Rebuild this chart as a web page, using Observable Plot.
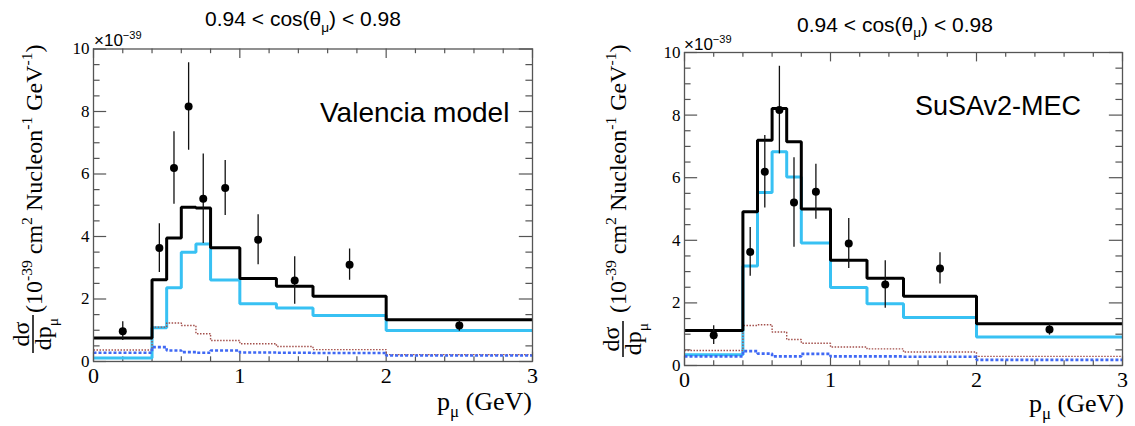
<!DOCTYPE html>
<html>
<head>
<meta charset="utf-8">
<script src="https://cdn.jsdelivr.net/npm/d3@7"></script>
<script src="https://cdn.jsdelivr.net/npm/@observablehq/plot@0.6"></script>
<style>
  body { margin: 0; background: #fff; }
  #chart { position: relative; width: 1135px; height: 426px; overflow: hidden; background: #fff; }
  .panel { position: absolute; top: 0; }
  .panel svg { overflow: visible; }
  #overlay { position: absolute; left: 0; top: 0; pointer-events: none; }
</style>
</head>
<body>
<div id="chart"></div>
<script>
// Muon momentum bin edges (GeV) and measured points at bin centres
const edges = [0, 0.4, 0.5, 0.6, 0.7, 0.8, 1.0, 1.25, 1.5, 2.0, 3.0];
const pCenters = [0.2, 0.45, 0.55, 0.65, 0.75, 0.9, 1.125, 1.375, 1.75, 2.5];
const dataXsec = [0.97, 3.63, 6.19, 8.16, 5.21, 5.55, 3.9, 2.59, 3.1, 1.15];
const dataErr  = [0.3, 0.78, 1.16, 1.4, 1.43, 0.88, 0.8, 0.76, 0.5, 0.18];

// Valencia model: total, quasi-elastic, 2p2h, pion-like contributions
const valTotal = [0.75, 2.62, 3.95, 4.94, 4.91, 3.64, 2.66, 2.41, 2.09, 1.34];
const valQE    = [0.11, 1.08, 2.36, 3.5, 3.76, 2.61, 1.85, 1.71, 1.47, 0.99];
const valMEC   = [0.37, 1.1, 1.23, 1.15, 0.89, 0.67, 0.57, 0.48, 0.38, 0.22];
const valPion  = [0.28, 0.46, 0.35, 0.3, 0.28, 0.35, 0.29, 0.28, 0.27, 0.19];

// SuSAv2-MEC model
const susaTotal = [1.12, 4.91, 7.2, 8.21, 7.15, 5.0, 3.36, 2.79, 2.21, 1.33];
const susaQE    = [0.34, 3.18, 5.53, 6.83, 6.02, 3.91, 2.49, 1.97, 1.53, 0.91];
const susaMEC   = [0.48, 1.28, 1.3, 1.07, 0.83, 0.71, 0.59, 0.53, 0.43, 0.29];
const susaPion  = [0.29, 0.46, 0.38, 0.29, 0.29, 0.37, 0.29, 0.29, 0.28, 0.18];

// Axis ticks
const xMajor = [0, 1, 2, 3];
const yMajor = [0, 2, 4, 6, 8, 10];
const xMinor = d3.range(0, 3.0001, 0.2).map(v => +v.toFixed(2)).filter(v => !xMajor.includes(v));
const yMinor = d3.range(0, 10.0001, 0.5).filter(v => !yMajor.includes(v));

const points = pCenters.map((p, i) => ({p, y: dataXsec[i], e: dataErr[i]}));
const steps = vals => edges.map((x, i) => ({x, y: vals[Math.min(i, vals.length - 1)]}));

const frameColor = "#555";

function panel({width, height, mt, mr, mb, ml, total, qe, mec, pion}) {
  const innerW = width - ml - mr, innerH = height - mt - mb;
  const ux = 3 / innerW, uy = 10 / innerH; // data units per pixel
  const tx = 0.03 * innerH, ty = 0.03 * innerW; // tick lengths in px
  const tick = {stroke: frameColor, strokeWidth: 1.2};
  const lineOpts = {x: "x", y: "y", curve: "step-after", strokeLinejoin: "miter", strokeLinecap: "butt"};
  return Plot.plot({
    width, height,
    marginTop: mt, marginRight: mr, marginBottom: mb, marginLeft: ml,
    x: {domain: [0, 3]},
    y: {domain: [0, 10]},
    style: {fontFamily: '"Liberation Serif", "Times New Roman", serif', background: "transparent", overflow: "visible"},
    marks: [
      // inward ticks on all four sides
      Plot.ruleX(xMajor, {x: d => d, y1: 0, y2: tx * uy, ...tick}),
      Plot.ruleX(xMinor, {x: d => d, y1: 0, y2: tx / 2 * uy, ...tick}),
      Plot.ruleX(xMajor, {x: d => d, y1: 10, y2: 10 - tx * uy, ...tick}),
      Plot.ruleX(xMinor, {x: d => d, y1: 10, y2: 10 - tx / 2 * uy, ...tick}),
      Plot.ruleY(yMajor, {y: d => d, x1: 0, x2: ty * ux, ...tick}),
      Plot.ruleY(yMinor, {y: d => d, x1: 0, x2: ty / 2 * ux, ...tick}),
      Plot.ruleY(yMajor, {y: d => d, x1: 3, x2: 3 - ty * ux, ...tick}),
      Plot.ruleY(yMinor, {y: d => d, x1: 3, x2: 3 - ty / 2 * ux, ...tick}),
      Plot.axisX({ticks: xMajor, tickSize: 0, tickPadding: 6, fontSize: 22, tickFormat: d => `${d}`, label: null}),
      Plot.axisY({ticks: yMajor, tickSize: 0, tickPadding: 4, fontSize: 17, tickFormat: d => `${d}`, label: null}),
      // model histograms
      Plot.line(steps(qe), {...lineOpts, stroke: "#38c1f3", strokeWidth: 3}),
      Plot.line(steps(mec), {...lineOpts, stroke: "#a3504c", strokeWidth: 1.4, strokeDasharray: "1.5,1.5"}),
      Plot.line(steps(pion), {...lineOpts, stroke: "#3f68f4", strokeWidth: 2.6, strokeDasharray: "3,2"}),
      Plot.line(steps(total), {...lineOpts, stroke: "#000", strokeWidth: 3}),
      // data
      Plot.ruleX(points, {x: "p", y1: d => d.y - d.e, y2: d => d.y + d.e, stroke: "#111", strokeWidth: 1.3}),
      Plot.dot(points, {x: "p", y: "y", r: 4, fill: "#000", stroke: "none"}),
      Plot.frame({stroke: frameColor, strokeWidth: 1.3})
    ]
  });
}

const chart = d3.select("#chart");

const left = panel({width: 570, height: 426, mt: 48.5, mr: 38, mb: 65, ml: 93,
  total: valTotal, qe: valQE, mec: valMEC, pion: valPion});
const right = panel({width: 565, height: 426, mt: 52, mr: 13, mb: 61, ml: 114,
  total: susaTotal, qe: susaQE, mec: susaMEC, pion: susaPion});

chart.append("div").attr("class", "panel").style("left", "0px").node().appendChild(left);
chart.append("div").attr("class", "panel").style("left", "570px").node().appendChild(right);

// Titles, exponents, model names and axis titles
const ov = chart.append("svg").attr("id", "overlay").attr("width", 1135).attr("height", 426);
const SANS = '"Liberation Sans", Arial, sans-serif';
const SERIF = '"Liberation Serif", "Times New Roman", serif';

function rich(sel, parts, size, family) {
  const t = sel.append("text").attr("font-family", family).attr("font-size", size).attr("fill", "#000");
  let shift = 0;
  for (const p of parts) {
    const s = p.sub ? 0.28 * size : p.sup ? -0.42 * size : 0;
    t.append("tspan").attr("dy", s - shift).attr("font-size", (p.sub || p.sup) ? size * 0.65 : size).text(p.t);
    shift = s;
  }
  return t;
}

const titleParts = [{t: "0.94 < cos(θ"}, {t: "μ", sub: true}, {t: ") < 0.98"}];
const expParts = [{t: "×10"}, {t: "−39", sup: true}];
const pLabel = [{t: "p"}, {t: "μ", sub: true}, {t: " (GeV)"}];
const yUnits = [{t: "(10"}, {t: "-39", sup: true}, {t: " cm"}, {t: "2", sup: true}, {t: " Nucleon"}, {t: "-1", sup: true}, {t: " GeV"}, {t: "-1", sup: true}, {t: ")"}];

function decorate({titleX, titleY, expX, expY, model, modelSize, modelX, modelY, axisR, axisY, barX, barY, fracW, unitsStart, unitsY}) {
  rich(ov, titleParts, 21, SANS).attr("x", titleX).attr("y", titleY).attr("text-anchor", "middle");
  rich(ov, expParts, 17, SANS).attr("x", expX).attr("y", expY);
  rich(ov, [{t: model}], modelSize, SANS).attr("x", modelX).attr("y", modelY);
  rich(ov, pLabel, 26, SERIF).attr("x", axisR).attr("y", axisY).attr("text-anchor", "end");
  const g = ov.append("g").attr("transform", `translate(${barX},${barY}) rotate(-90)`);
  rich(g, [{t: "dσ"}], 24, SERIF).attr("x", fracW / 2).attr("y", -4).attr("text-anchor", "middle");
  g.append("line").attr("x1", 0).attr("x2", fracW).attr("y1", 0).attr("y2", 0).attr("stroke", "#000").attr("stroke-width", 1.5);
  rich(g, [{t: "dp"}, {t: "μ", sub: true}], 24, SERIF).attr("x", fracW / 2).attr("y", 18).attr("text-anchor", "middle");
  rich(g, yUnits, 24, SERIF).attr("x", unitsStart).attr("y", unitsY);
}

decorate({titleX: 303, titleY: 26, expX: 94, expY: 46, model: "Valencia model", modelSize: 28, modelX: 320, modelY: 122,
  axisR: 532, axisY: 410, barX: 33, barY: 353, fracW: 38, unitsStart: 40, unitsY: 9});
decorate({titleX: 895, titleY: 31.5, expX: 684, expY: 50, model: "SuSAv2-MEC", modelSize: 27, modelX: 915, modelY: 115,
  axisR: 1124, axisY: 412, barX: 623, barY: 357, fracW: 36, unitsStart: 44, unitsY: 3});
</script>
</body>
</html>
